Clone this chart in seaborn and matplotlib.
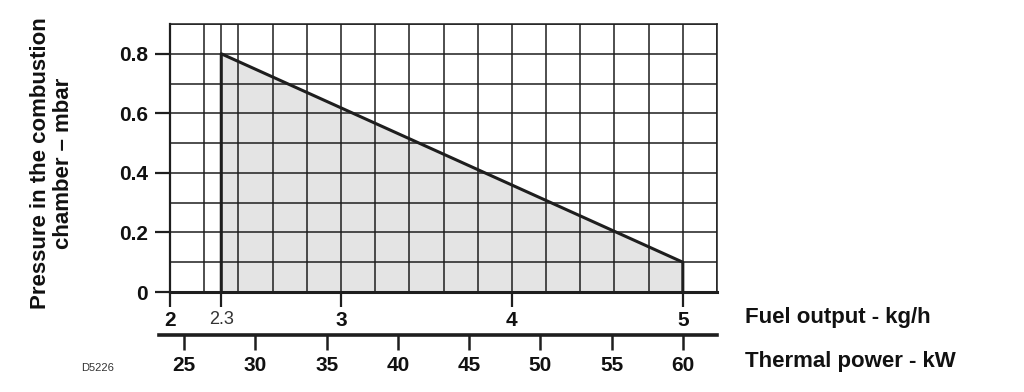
import matplotlib
matplotlib.use("Agg")
import matplotlib.pyplot as plt
from matplotlib.ticker import MultipleLocator
import seaborn as sns
import pandas as pd

# ---- data ----
fuel_kgh = [2.3, 2.3, 5.0, 5.0]
pressure_mbar = [0.0, 0.8, 0.1, 0.0]
fuel_ticks = [2, 2.3, 3, 4, 5]
fuel_tick_labels = ["2", "2.3", "3", "4", "5"]
power_ticks = [25, 30, 35, 40, 45, 50, 55, 60]
pressure_ticks = [0, 0.2, 0.4, 0.6, 0.8]
pressure_tick_labels = ["0", "0.2", "0.4", "0.6", "0.8"]
KW_PER_KGH = 12.0

sns.set_theme(style="white")
plt.rcParams["font.family"] = ["Liberation Sans", "DejaVu Sans"]

df = pd.DataFrame({"fuel": fuel_kgh, "pressure": pressure_mbar})

fig = plt.figure(figsize=(10.24, 3.92), dpi=100)
ax = fig.add_axes([170/1024, 1-292/392, (717-170)/1024, (292-24)/392])

line_col = "#1e1e1e"
ax.fill(df["fuel"], df["pressure"], color="#e4e4e4", zorder=1, lw=0)
sns.lineplot(data=df, x="fuel", y="pressure", sort=False, estimator=None,
             errorbar=None, color=line_col, lw=2.2, ax=ax, zorder=4)

ax.set_xlim(2, 5.2)
ax.set_ylim(0, 0.9)

# grid
ax.xaxis.set_minor_locator(MultipleLocator(0.2))
ax.yaxis.set_minor_locator(MultipleLocator(0.1))
ax.grid(which="both", axis="both", color=line_col, lw=1.1, zorder=2)
ax.set_axisbelow(False)
for sp in ax.spines.values():
    sp.set_color(line_col)
    sp.set_linewidth(1.1)
    sp.set_visible(True)
ax.spines["bottom"].set_linewidth(2.2)
ax.spines["left"].set_linewidth(1.6)

ax.set_xticks(fuel_ticks)
ax.set_xticklabels(fuel_tick_labels)
ax.set_yticks(pressure_ticks)
ax.set_yticklabels(pressure_tick_labels)
ax.tick_params(which="major", axis="both", direction="out", length=11, width=1.6,
               color=line_col, labelsize=15, labelcolor="#111111", pad=3,
               bottom=True, left=True)
ax.tick_params(which="minor", length=0)
ax.tick_params(axis="y", pad=5)
for lab in ax.get_xticklabels() + ax.get_yticklabels():
    lab.set_fontweight("bold")
for lab in ax.get_xticklabels():
    if lab.get_text() == "2.3":
        lab.set_fontweight("normal")
        lab.set_fontsize(13)
        lab.set_color("#333333")
ax.set_xlabel("")
ax.set_ylabel("")

# secondary axis: thermal power
sec = ax.secondary_xaxis(-0.16, functions=(lambda x: x*KW_PER_KGH,
                                           lambda x: x/KW_PER_KGH))
sec.set_xticks(power_ticks)
sec.set_xticklabels([str(v) for v in power_ticks])
sec.tick_params(direction="out", length=11, width=1.8, color=line_col,
                labelsize=15, labelcolor="#111111", pad=4)
for lab in sec.get_xticklabels():
    lab.set_fontweight("bold")
sec.spines["bottom"].set_linewidth(2.6)
sec.spines["bottom"].set_color(line_col)
sec.spines["bottom"].set_bounds(23.2, 62.4)

fig.text(745/1024, 1-318/392, "Fuel output - kg/h", fontsize=16, fontweight="bold",
         ha="left", va="center", color="#111111")
fig.text(745/1024, 1-362/392, "Thermal power - kW", fontsize=16, fontweight="bold",
         ha="left", va="center", color="#111111")
fig.text(52/1024, 1-163/392, "Pressure in the combustion\nchamber – mbar",
         rotation=90, fontsize=16, fontweight="bold", ha="center", va="center",
         multialignment="center", color="#111111", linespacing=1.1)
fig.text(81/1024, 1-368/392, "D5226", fontsize=8, ha="left", va="center",
         color="#333333")

fig.savefig("out.png", dpi=100)
